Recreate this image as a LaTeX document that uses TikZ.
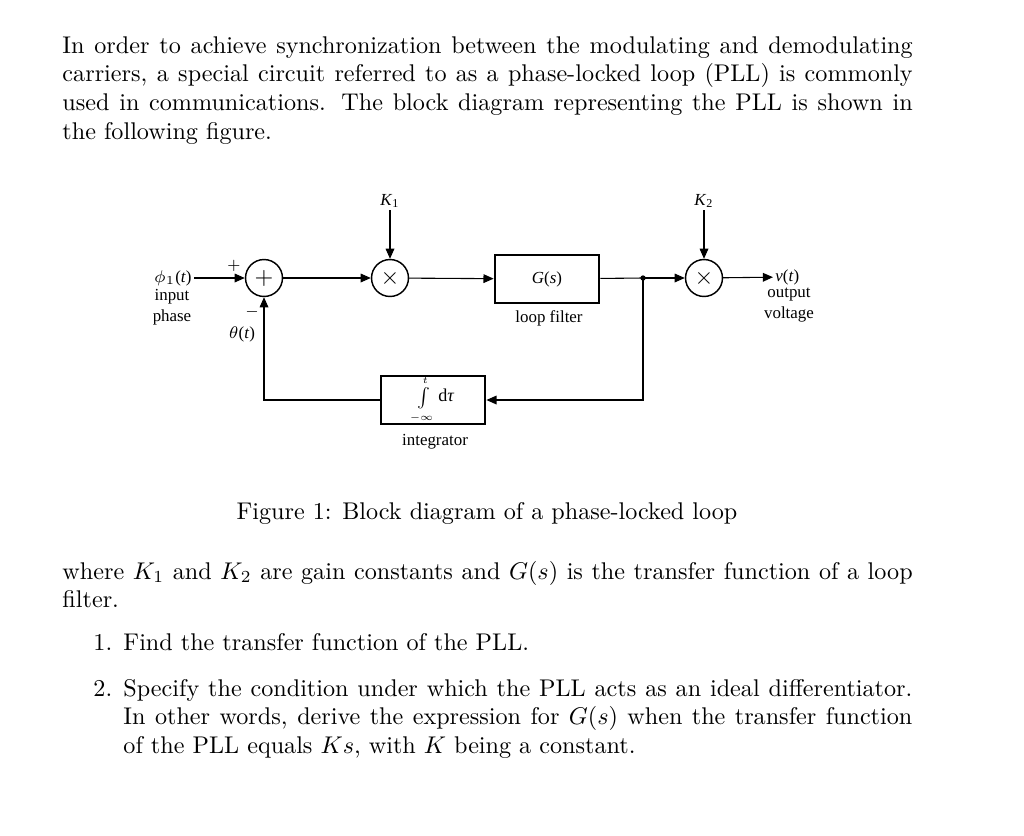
\documentclass[tikz,border=0pt]{standalone}
\usepackage{fontspec}
\newfontfamily\figfont{Liberation Serif}
\usetikzlibrary{arrows.meta}
\usetikzlibrary{calc}

\begin{document}
\begin{tikzpicture}[x=0.414pt,y=-0.414pt,
  sig/.style={-{Triangle[length=4.2pt,width=3.6pt]}, line width=0.45pt},
  junc/.style={draw, circle, line width=0.6pt, minimum size=15.3pt, inner sep=0pt},
  blk/.style={draw, rectangle, line width=0.9pt, minimum width=43.3pt, minimum height=20.2pt, inner sep=0pt},
  lbl/.style={font=\figfont\fontsize{7}{8.7}\selectfont, inner sep=0.8pt, align=center},
  para/.style={text width=352pt, inner sep=0pt, align=justify, anchor=base west}]

    \useasboundingbox (0,0) rectangle (1024,835);

    % text above the figure
    \node[para] (intro) at (62,53) {In order to achieve synchronization between the modulating and demodulating carriers, a special circuit referred to as a phase-locked loop (PLL) is commonly used in communications. The block diagram representing the PLL is shown in the following figure.};

    % blocks
    \node (sum) [junc] at (264,278) {$+$};
    \node (mulA) [junc] at (390,278) {$\times$};
    \node (filt) [blk] at (547,279) {\figfont\fontsize{7}{8}\selectfont\textit{G}(\textit{s})};
    \node (mulB) [junc] at (704,278) {$\times$};
    \node (integ) [blk] at (433,400) {\scalebox{0.8}{\fontsize{7}{8}\selectfont$\int\limits_{-\infty}^{t}$}\figfont\fontsize{7.5}{8}\selectfont\,d\textit{τ}};
    \coordinate (br) at (643,278);

    % labels
    \node (phi) [lbl, anchor=east] at (194,278) {$\phi_1$(\textit{t})};
    \node (inlbl) [lbl, anchor=north] at (172,287) {input\\phase};
    \node (pls) [lbl] at (234,266) {\fontsize{6}{7}\selectfont$+$};
    \node (mns) [lbl] at (252,312) {\fontsize{6}{7}\selectfont$-$};
    \node (theta) [lbl] at (242,334) {$\theta$(\textit{t})};
    \node (kA) [lbl, anchor=south] at (390,210) {\textit{K}\textsubscript{1}};
    \node (kB) [lbl, anchor=south] at (704,210) {\textit{K}\textsubscript{2}};
    \node (vt) [lbl, anchor=west] at (773,277) {\textit{v}(\textit{t})};
    \node (outlbl) [lbl, anchor=north] at (789,286) {output\\voltage};
    \node (fltlbl) [lbl, anchor=north] at (549,308) {loop filter};
    \node (intlbl) [lbl, anchor=north] at (435,432) {integrator};

    % connectors
    \draw[sig] (phi) -- (sum);
    \draw[sig] (sum) -- (mulA);
    \draw[sig] (kA) -- (mulA);
    \draw[sig] (mulA) -- (filt);
    \draw[line width=0.45pt] (filt) -- (br);
    \draw[sig] (br) -- (mulB);
    \draw[sig] (kB) -- (mulB);
    \draw[sig] (mulB) -- (vt);
    \draw[sig] (br) |- (integ);
    \draw[sig] (integ) -| (sum);
    \fill (br) circle (1.1pt);

    % caption and text below
    \node (cap) [anchor=base] at (487,519) {Figure 1: Block diagram of a phase-locked loop};

    \node[para] (where) at (62,579) {where $K_1$ and $K_2$ are gain constants and $G(s)$ is the transfer function of a loop filter.};

    \node (numA) [anchor=base west, inner sep=0pt] at (93,650) {1.};
    \node[para, text width=326.6pt] (itemA) at (123,650) {Find the transfer function of the PLL.};
    \node (numB) [anchor=base west, inner sep=0pt] at (93,696) {2.};
    \node[para, text width=326.6pt] (itemB) at (123,696) {Specify the condition under which the PLL acts as an ideal differentiator. In other words, derive the expression for $G(s)$ when the transfer function of the PLL equals $Ks$, with $K$ being a constant.};

\end{tikzpicture}
\end{document}
